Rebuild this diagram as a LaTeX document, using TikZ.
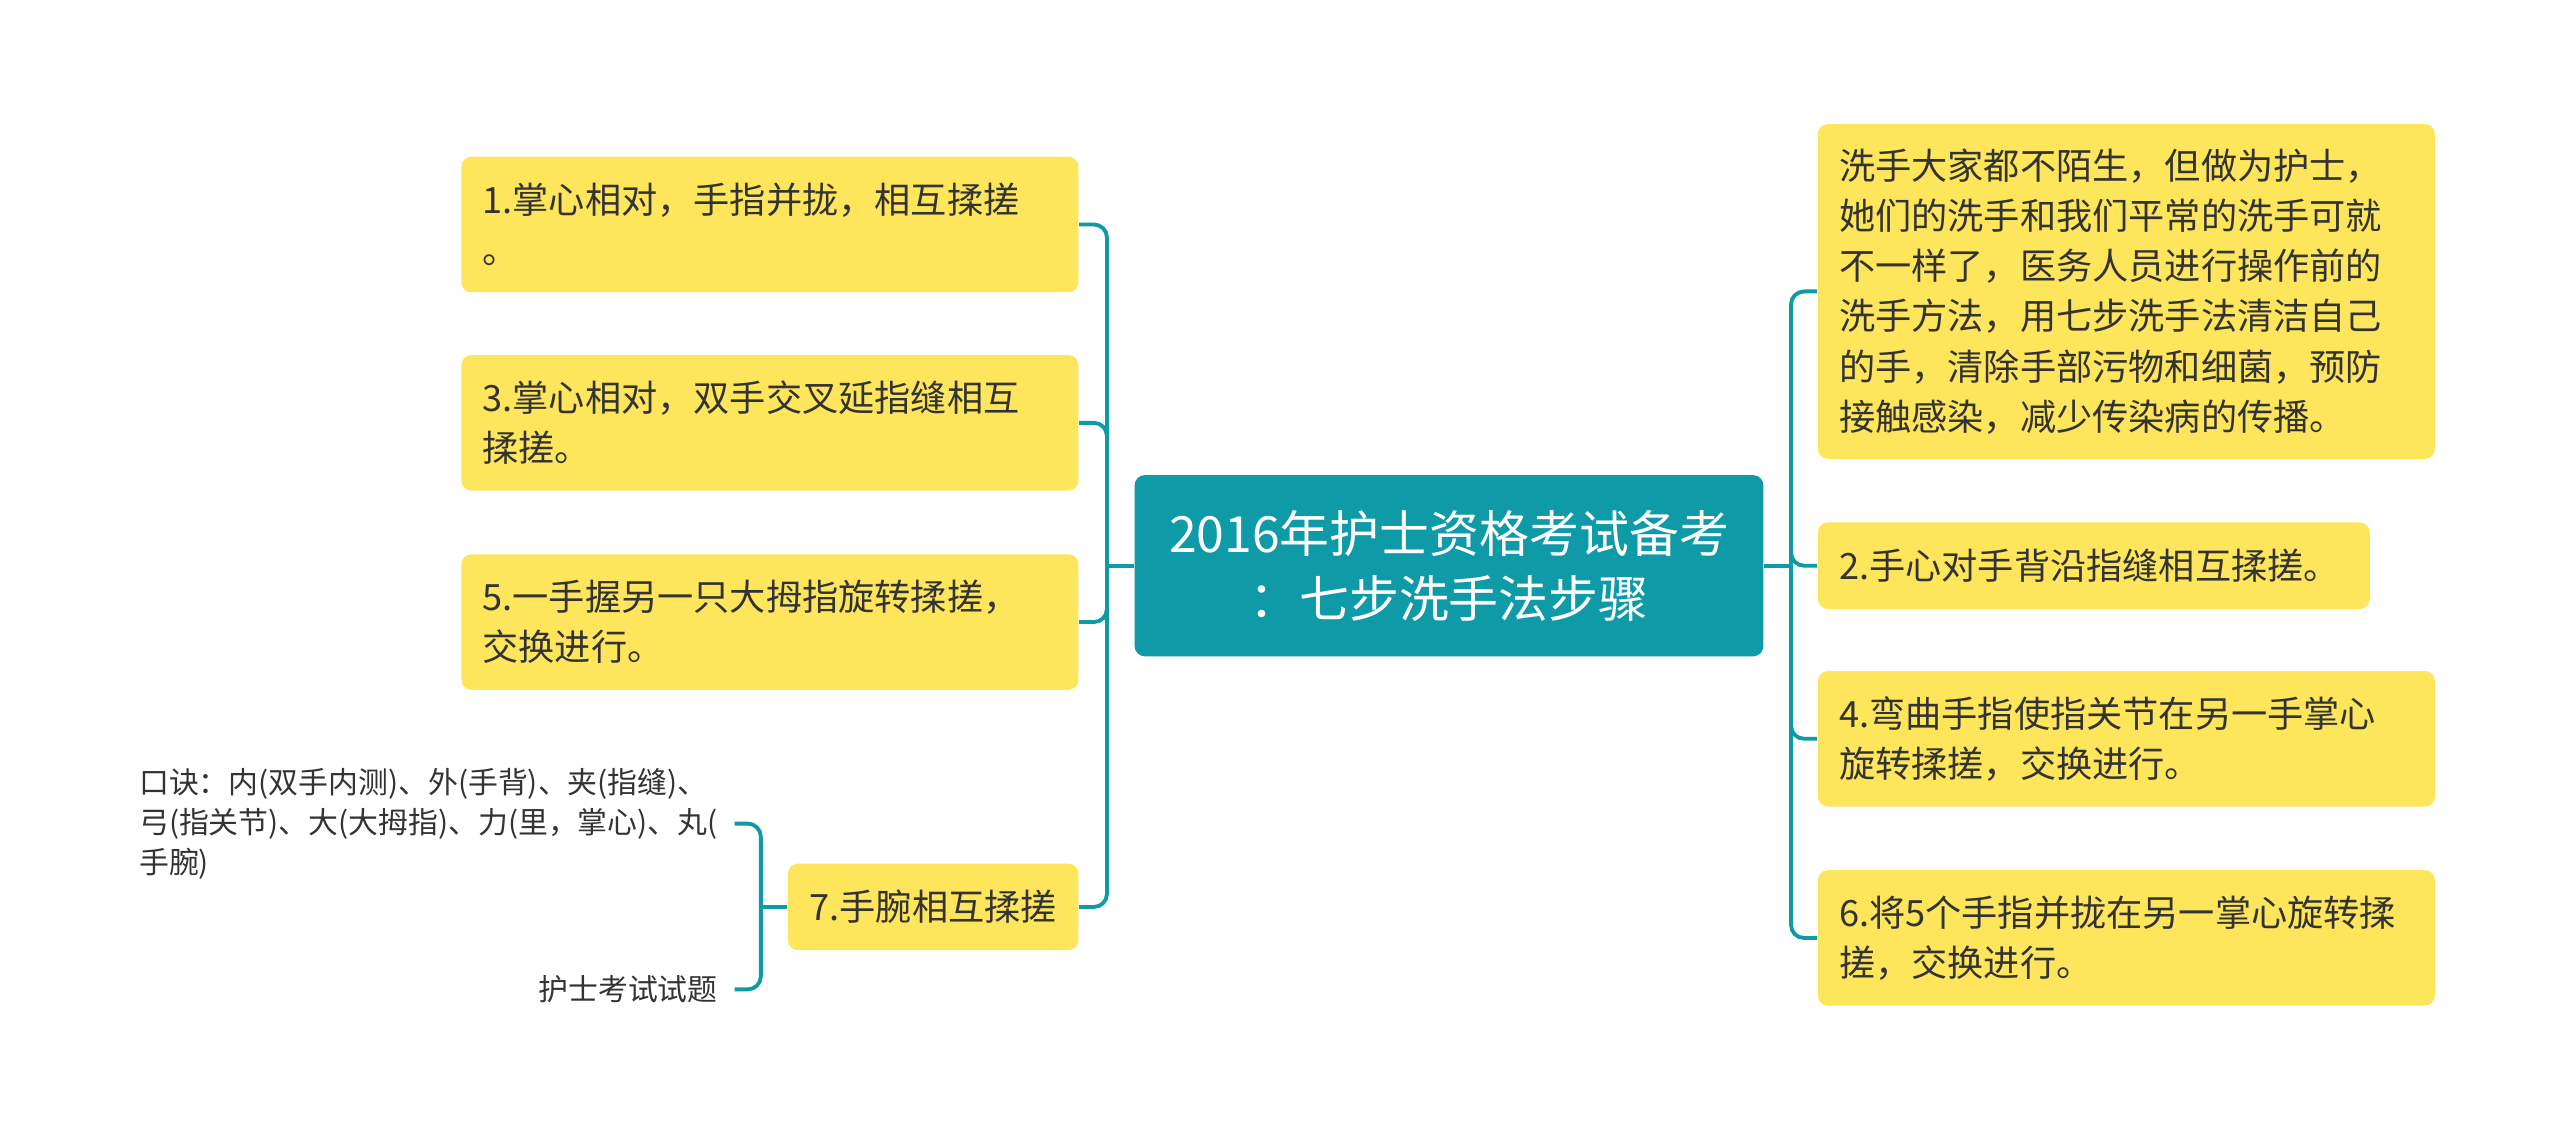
\documentclass[tikz,border=0pt]{standalone}
\usepackage{fontspec}
\setmainfont{Noto Sans CJK SC}
\usetikzlibrary{positioning}
\definecolor{rootcol}{HTML}{0E9AA7}
\definecolor{boxcol}{HTML}{FDE65B}
\definecolor{txtcol}{HTML}{333333}
\definecolor{linkcol}{HTML}{0E9AA7}
\tikzset{
  rootnode/.style={rectangle, rounded corners=0.1cm, fill=rootcol, text=white, align=center,
    minimum width=6.286cm, minimum height=1.812cm, inner sep=0pt,
    font=\fontsize{14.2pt}{18.5pt}\selectfont},
  stepbox/.style={rectangle, rounded corners=0.1cm, fill=boxcol, text=txtcol, align=left,
    text width=5.747cm, inner xsep=0.212cm, inner ysep=0pt, minimum height=1.355cm,
    font=\fontsize{10.3pt}{14.3pt}\selectfont},
  shortbox/.style={stepbox, text width=5.095cm, minimum height=0.865cm},
  wristbox/.style={stepbox, text width={}, align=center, inner xsep=0.15cm, minimum width=2.906cm, minimum height=0.865cm},
  leafnote/.style={text=txtcol, align=left, inner xsep=0.163cm, inner ysep=0pt,
    font=\fontsize{8.5pt}{11.4pt}\selectfont},
  link/.style={draw=linkcol, line width=1.1pt, rounded corners=0.13cm},
}
\begin{document}
\begin{tikzpicture}[x=0.016327cm, y=-0.016327cm]
  \useasboundingbox (0,0) rectangle (1568,703);
  % root
  \node[rootnode] (root) at (887.5,346.5) {2016年护士资格考试备考\\：七步洗手法步骤};
  % left side
  \node[stepbox, anchor=east] (s1) at (661,137.5) {1.掌心相对，手指并拢，相互揉搓\\。};
  \node[stepbox, anchor=east] (s3) at (661,259) {3.掌心相对，双手交叉延指缝相互\\揉搓。};
  \node[stepbox, anchor=east] (s5) at (661,381) {5.一手握另一只大拇指旋转揉搓，\\交换进行。};
  \node[wristbox, anchor=east] (s7) at (661,555.5) {7.手腕相互揉搓};
  \node[leafnote, anchor=east] (k1) at (450,504.5) {口诀：内(双手内测)、外(手背)、夹(指缝)、\\弓(指关节)、大(大拇指)、力(里，掌心)、丸(\\手腕)};
  \node[leafnote, anchor=east] (k2) at (450,606) {护士考试试题};
  % right side
  \node[stepbox, anchor=west, minimum height=3.347cm] (intro) at (1113,178.5) {洗手大家都不陌生，但做为护士，\\她们的洗手和我们平常的洗手可就\\不一样了，医务人员进行操作前的\\洗手方法，用七步洗手法清洁自己\\的手，清除手部污物和细菌，预防\\接触感染，减少传染病的传播。};
  \node[shortbox, anchor=west] (s2) at (1113,346.5) {2.手心对手背沿指缝相互揉搓。};
  \node[stepbox, anchor=west] (s4) at (1113,452.5) {4.弯曲手指使指关节在另一手掌心\\旋转揉搓，交换进行。};
  \node[stepbox, anchor=west] (s6) at (1113,574.5) {6.将5个手指并拢在另一掌心旋转揉\\搓，交换进行。};
  % links
  \coordinate (lj) at (678,346.5);
  \coordinate (rj) at (1097,346.5);
  \coordinate (kj) at (466,555.5);
  \draw[link] (root.west) -- (lj);
  \draw[link] (root.east) -- (rj);
  \draw[link] (s7.west) -- (kj);
  \foreach \n in {s1,s3,s5,s7}
    \draw[link] (lj) |- (\n.east);
  \foreach \n in {intro,s2,s4,s6}
    \draw[link] (rj) |- (\n.west);
  \foreach \n in {k1,k2}
    \draw[link] (kj) |- (\n.east);
\end{tikzpicture}
\end{document}
